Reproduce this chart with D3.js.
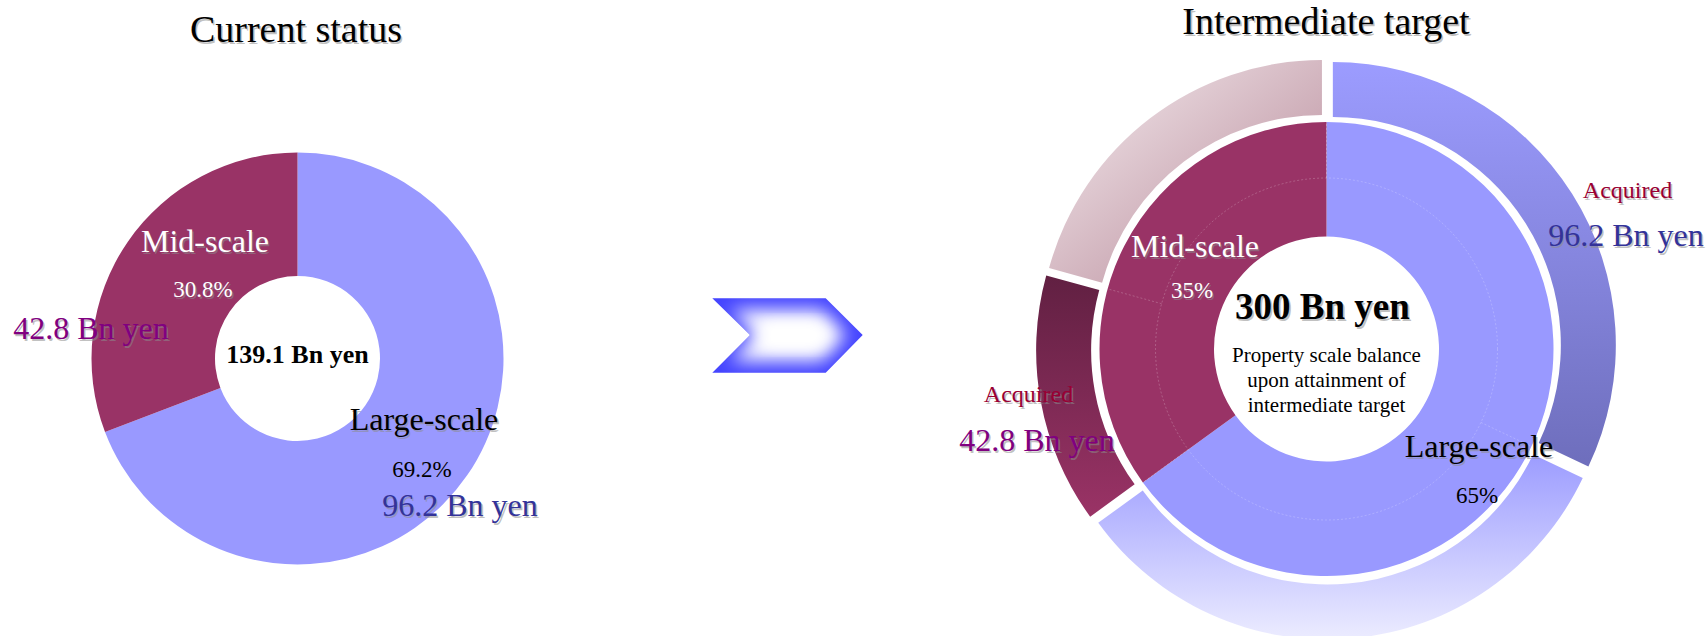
<!DOCTYPE html>
<html>
<head>
<meta charset="utf-8">
<script src="https://cdn.jsdelivr.net/npm/d3@7"></script>
<style>
  html, body { margin: 0; padding: 0; background: #fff; }
  svg { display: block; }
  text { font-family: "Liberation Serif", "Times New Roman", serif; }
</style>
</head>
<body>
<svg id="chart" width="1708" height="636"></svg>
<script>
// ---- data ----
const categories = ["Large-scale", "Mid-scale"];
const currentShares = [69.2, 30.8];                 // % of current portfolio
const currentAmounts = ["96.2 Bn yen", "42.8 Bn yen"];
const currentTotal = "139.1 Bn yen";
const targetShares = [65, 35];                      // % at intermediate target
const targetTotal = "300 Bn yen";
const targetNote = ["Property scale balance", "upon attainment of", "intermediate target"];
// outer ring, Bn yen (sums to 300): acquired vs. still to acquire per category
const ringParts = ["Large acquired", "Large to acquire", "Mid acquired", "Mid to acquire"];
const ringValues = [96.2, 98.8, 42.8, 62.2];
const acquiredLabel = "Acquired";
const titles = ["Current status", "Intermediate target"];

// ---- styles ----
const sliceColors = ["#9999ff", "#993366"];
const amountColors = ["#333399", "#800080"];

const svg = d3.select("#chart");
const defs = svg.append("defs");

function linGrad(id, x1, y1, x2, y2, stops) {
  const g = defs.append("linearGradient").attr("id", id)
    .attr("x1", x1).attr("y1", y1).attr("x2", x2).attr("y2", y2);
  stops.forEach(([o, c]) => g.append("stop").attr("offset", o).attr("stop-color", c));
}
linGrad("gLargeAcq", 0, 0, 0, 1, [[0, "#9c9cff"], [1, "#6e6ebc"]]);
linGrad("gLargeRest", 0, 0, 0, 1, [[0, "#9c9cff"], [1, "#ececff"]]);
linGrad("gMidAcq", 0, 0, 0, 1, [[0, "#612042"], [1, "#9a3366"]]);
linGrad("gMidRest", 0, 0, 1, 1, [[0, "#f6eef1"], [1, "#b48494"]]);
const ringFills = ["url(#gLargeAcq)", "url(#gLargeRest)", "url(#gMidAcq)", "url(#gMidRest)"];

defs.append("filter").attr("id", "soft").attr("x", "-50%").attr("y", "-50%")
  .attr("width", "200%").attr("height", "200%")
  .append("feGaussianBlur").attr("stdDeviation", 9);

function label(g, x, y, txt, opt) {
  const o = Object.assign({ size: 32, fill: "#000", weight: "normal", shadow: true, anchor: "middle" }, opt);
  if (o.shadow) {
    g.append("text").attr("x", x + 1.6).attr("y", y + 1.6).attr("text-anchor", o.anchor)
      .attr("font-size", o.size).attr("font-weight", o.weight)
      .attr("fill", "#8c8c8c").attr("fill-opacity", 0.55).text(txt);
  }
  g.append("text").attr("x", x).attr("y", y).attr("text-anchor", o.anchor)
    .attr("font-size", o.size).attr("font-weight", o.weight)
    .attr("fill", o.fill).text(txt);
}

const pie = d3.pie().sort(null).value(d => d);

// ---- current status donut ----
const left = svg.append("g").attr("transform", "translate(297.5,358.5)");
const arcL = d3.arc().innerRadius(82.5).outerRadius(206);
left.selectAll("path").data(pie(currentShares)).join("path")
  .attr("d", arcL).attr("fill", (d, i) => sliceColors[i]);

const lt = svg.append("g");
label(lt, 296, 42, titles[0], { size: 38 });
label(lt, 205, 252, categories[1], { fill: "#fff" });
label(lt, 203, 297, currentShares[1] + "%", { size: 23, fill: "#fff" });
label(lt, 91, 339, currentAmounts[1], { fill: amountColors[1] });
label(lt, 297.5, 363, currentTotal, { size: 26, weight: "bold", shadow: false });
label(lt, 424, 430, categories[0]);
label(lt, 422, 477, currentShares[0] + "%", { size: 23, shadow: false });
label(lt, 460, 516, currentAmounts[0], { fill: amountColors[0] });

// ---- transition arrow: blue chevron fading to white in the middle ----
const chevron = "M712.3,298.3 L825.7,298.3 L862.7,335 L825.7,372.7 L712.3,372.7 L750,335 Z";
defs.append("clipPath").attr("id", "chevClip").append("path").attr("d", chevron);
const arrow = svg.append("g");
arrow.append("path").attr("d", chevron).attr("fill", "#4444ff");
const glow = arrow.append("g").attr("clip-path", "url(#chevClip)");
glow.append("path")
  .attr("d", "M730,310 L822,310 L846,335 L822,361 L730,361 L756,335 Z")
  .attr("fill", "#fff").attr("filter", "url(#soft)");
glow.append("path")
  .attr("d", "M760,324 L818,324 L826,335 L818,346 L760,346 L768,335 Z")
  .attr("fill", "#fff").attr("filter", "url(#soft)");

// ---- intermediate target donut ----
const right = svg.append("g").attr("transform", "translate(1326.5,349)");
const arcIn = d3.arc().innerRadius(112.5).outerRadius(227);
right.selectAll("path.inner").data(pie(targetShares)).join("path")
  .attr("class", "inner").attr("d", arcIn).attr("fill", (d, i) => sliceColors[i]);

// faint guide ring with the acquired split inside each category
const ringArcs = pie(ringValues);
right.append("circle").attr("r", 171).attr("fill", "none")
  .attr("stroke", "#ffffff").attr("stroke-opacity", 0.3)
  .attr("stroke-width", 0.7).attr("stroke-dasharray", "2,2");
ringArcs.forEach(a => {
  const t = a.endAngle;
  right.append("line")
    .attr("x1", 171 * Math.sin(t)).attr("y1", -171 * Math.cos(t))
    .attr("x2", 227 * Math.sin(t)).attr("y2", -227 * Math.cos(t))
    .attr("stroke", "#ffffff").attr("stroke-opacity", 0.3)
    .attr("stroke-width", 0.7).attr("stroke-dasharray", "2,2");
});

// exploded outer ring
const explode = 7.5;
const arcOut = d3.arc().innerRadius(228).outerRadius(283);
right.selectAll("path.ring").data(ringArcs).join("path")
  .attr("class", "ring")
  .attr("d", arcOut)
  .attr("fill", (d, i) => ringFills[i])
  .attr("transform", d => {
    const m = (d.startAngle + d.endAngle) / 2;
    return `translate(${explode * Math.sin(m)},${-explode * Math.cos(m)})`;
  });

const rt = svg.append("g");
label(rt, 1326, 34, titles[1], { size: 38 });
label(rt, 1195, 257, categories[1], { fill: "#fff" });
label(rt, 1192, 298, targetShares[1] + "%", { size: 23, fill: "#fff" });
label(rt, 1322.5, 319, targetTotal, { size: 37, weight: "bold" });
targetNote.forEach((s, i) => label(rt, 1326.5, 362 + i * 25, s, { size: 21, shadow: false }));
label(rt, 1479, 457, categories[0]);
label(rt, 1477, 503, targetShares[0] + "%", { size: 23, shadow: false });
label(rt, 1627.5, 198, acquiredLabel, { size: 24, fill: "#990033" });
label(rt, 1626, 246, currentAmounts[0], { fill: amountColors[0] });
label(rt, 1028.5, 402, acquiredLabel, { size: 24, fill: "#990033" });
label(rt, 1037, 451, currentAmounts[1], { fill: amountColors[1] });
</script>
</body>
</html>
